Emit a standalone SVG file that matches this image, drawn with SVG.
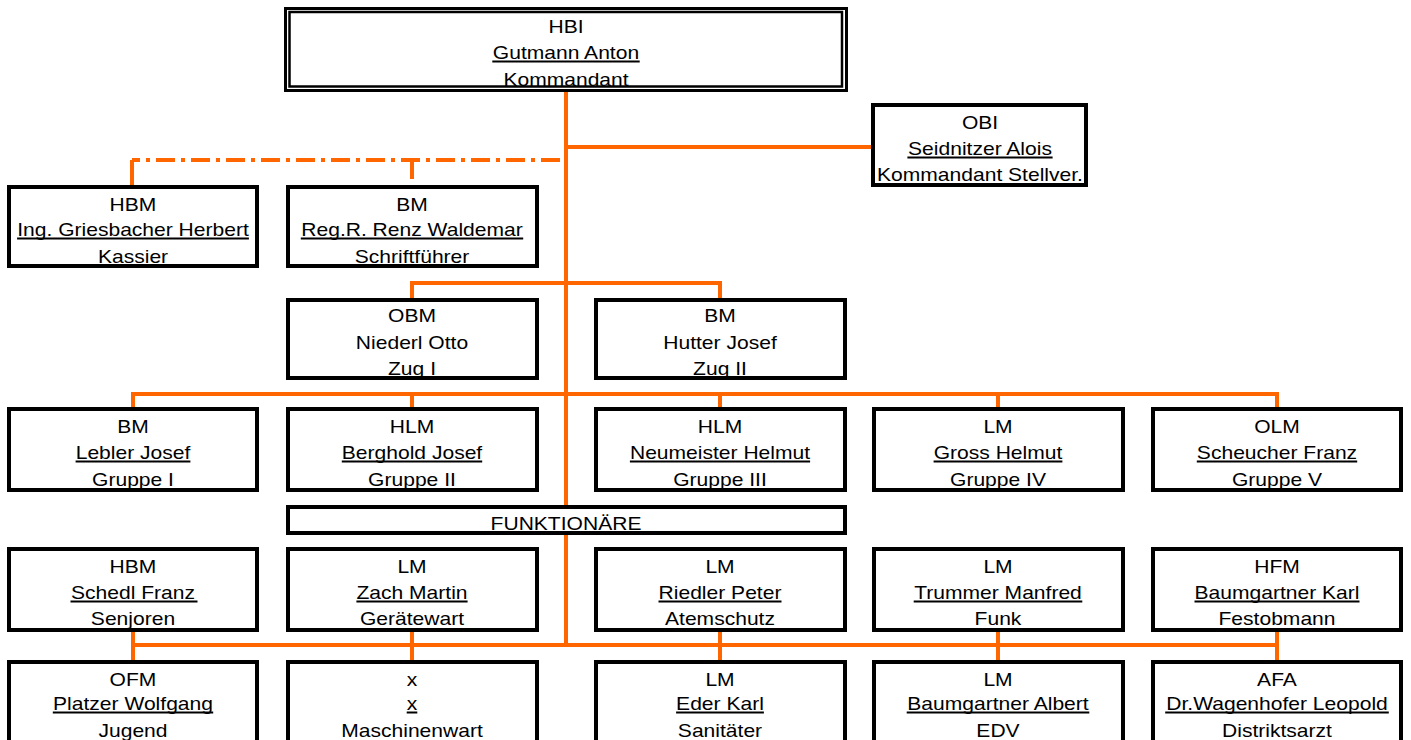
<svg xmlns="http://www.w3.org/2000/svg" width="1411" height="740" viewBox="0 0 1411 740">
<style>
.bg{fill:#fff}
.box{fill:#fff;stroke:#000;stroke-width:4}
.t{font-family:"Liberation Sans",Arial,Helvetica,sans-serif;font-size:18px;fill:#000;text-anchor:middle}
.ul{stroke:#000;stroke-width:2}
.c{stroke:#FF6600;stroke-width:4;fill:none}
.d{stroke:#FF6600;stroke-width:4;fill:none;stroke-dasharray:19 6 4 6}
</style>
<rect class="bg" x="0" y="0" width="1411" height="740"/>
<g id="connectors">
  <path class="c" d="M566,90 V645"/>
  <path class="c" d="M566,147 H873"/>
  <path class="d" d="M560,160 H132"/>
  <path class="c" d="M132,160 V185"/>
  <path class="c" d="M412,160 V179"/>
  <path class="c" d="M412,298 V283 H720 V298"/>
  <path class="c" d="M133,407 V394 H1277 V407 M412,394 V407 M720,394 V407 M998,394 V407"/>
  <path class="c" d="M133,632 V660 M412,632 V660 M720,632 V660 M998,632 V660 M1277,632 V660 M133,645 H1277"/>
</g>
<g id="n-hbi">
  <rect x="285.5" y="8.5" width="561" height="82" fill="#fff" stroke="#000" stroke-width="3"/>
  <rect x="289.5" y="12" width="552.5" height="74.5" fill="none" stroke="#000" stroke-width="2.5"/>
  <g transform="translate(566,0) scale(1.17,1)">
    <text class="t" x="0" y="33">HBI</text>
    <text class="t" x="0" y="59">Gutmann Anton</text>
    <text class="t" x="0" y="86">Kommandant</text>
  </g>
  <line class="ul" x1="492.3" y1="61.5" x2="639.7" y2="61.5"/>
</g>
<g id="n-obi">
  <rect class="box" x="873" y="105" width="213" height="80"/>
  <g transform="translate(980,0) scale(1.17,1)">
    <text class="t" x="0" y="129">OBI</text>
    <text class="t" x="0" y="155">Seidnitzer Alois</text>
    <text class="t" x="0" y="181">Kommandant Stellver.</text>
  </g>
  <line class="ul" x1="907.4" y1="157.5" x2="1052.6" y2="157.5"/>
</g>
<g id="n-kassier">
  <rect class="box" x="9" y="187" width="248" height="79"/>
  <g transform="translate(133,0) scale(1.17,1)">
    <text class="t" x="0" y="211">HBM</text>
    <text class="t" x="0" y="236">Ing. Griesbacher Herbert</text>
    <text class="t" x="0" y="263">Kassier</text>
  </g>
  <line class="ul" x1="17.1" y1="238.5" x2="248.9" y2="238.5"/>
</g>
<g id="n-schrift">
  <rect class="box" x="288" y="187" width="249" height="79"/>
  <g transform="translate(412,0) scale(1.17,1)">
    <text class="t" x="0" y="211">BM</text>
    <text class="t" x="0" y="236">Reg.R. Renz Waldemar</text>
    <text class="t" x="0" y="263">Schriftführer</text>
  </g>
  <line class="ul" x1="300.8" y1="238.5" x2="523.2" y2="238.5"/>
</g>
<g id="n-zug1">
  <rect class="box" x="288" y="300" width="249" height="78"/>
  <g transform="translate(412,0) scale(1.17,1)">
    <text class="t" x="0" y="322">OBM</text>
    <text class="t" x="0" y="349">Niederl Otto</text>
    <text class="t" x="0" y="375">Zug I</text>
  </g>
</g>
<g id="n-zug2">
  <rect class="box" x="596" y="300" width="249" height="78"/>
  <g transform="translate(720,0) scale(1.17,1)">
    <text class="t" x="0" y="322">BM</text>
    <text class="t" x="0" y="349">Hutter Josef</text>
    <text class="t" x="0" y="375">Zug II</text>
  </g>
</g>
<g id="n-g1">
  <rect class="box" x="9" y="409" width="248" height="81"/>
  <g transform="translate(133,0) scale(1.17,1)">
    <text class="t" x="0" y="433">BM</text>
    <text class="t" x="0" y="459">Lebler Josef</text>
    <text class="t" x="0" y="486">Gruppe I</text>
  </g>
  <line class="ul" x1="75.6" y1="461.5" x2="190.4" y2="461.5"/>
</g>
<g id="n-g2">
  <rect class="box" x="288" y="409" width="249" height="81"/>
  <g transform="translate(412,0) scale(1.17,1)">
    <text class="t" x="0" y="433">HLM</text>
    <text class="t" x="0" y="459">Berghold Josef</text>
    <text class="t" x="0" y="486">Gruppe II</text>
  </g>
  <line class="ul" x1="341.8" y1="461.5" x2="482.2" y2="461.5"/>
</g>
<g id="n-g3">
  <rect class="box" x="596" y="409" width="249" height="81"/>
  <g transform="translate(720,0) scale(1.17,1)">
    <text class="t" x="0" y="433">HLM</text>
    <text class="t" x="0" y="459">Neumeister Helmut</text>
    <text class="t" x="0" y="486">Gruppe III</text>
  </g>
  <line class="ul" x1="629.9" y1="461.5" x2="810.1" y2="461.5"/>
</g>
<g id="n-g4">
  <rect class="box" x="874" y="409" width="249" height="81"/>
  <g transform="translate(998,0) scale(1.17,1)">
    <text class="t" x="0" y="433">LM</text>
    <text class="t" x="0" y="459">Gross Helmut</text>
    <text class="t" x="0" y="486">Gruppe IV</text>
  </g>
  <line class="ul" x1="933.6" y1="461.5" x2="1062.4" y2="461.5"/>
</g>
<g id="n-g5">
  <rect class="box" x="1153" y="409" width="248" height="81"/>
  <g transform="translate(1277,0) scale(1.17,1)">
    <text class="t" x="0" y="433">OLM</text>
    <text class="t" x="0" y="459">Scheucher Franz</text>
    <text class="t" x="0" y="486">Gruppe V</text>
  </g>
  <line class="ul" x1="1196.8" y1="461.5" x2="1357.2" y2="461.5"/>
</g>
<g id="n-funktionaere">
  <rect class="box" x="288" y="507" width="557" height="26"/>
  <g transform="translate(566,0) scale(1.17,1)">
    <text class="t" x="0" y="530">FUNKTIONÄRE</text>
  </g>
</g>
<g id="n-senioren">
  <rect class="box" x="9" y="549" width="248" height="81"/>
  <g transform="translate(133,0) scale(1.17,1)">
    <text class="t" x="0" y="573">HBM</text>
    <text class="t" x="0" y="599">Schedl Franz</text>
    <text class="t" x="0" y="625">Senjoren</text>
  </g>
  <line class="ul" x1="70.5" y1="601.5" x2="197.5" y2="601.5"/>
</g>
<g id="n-geraete">
  <rect class="box" x="288" y="549" width="249" height="81"/>
  <g transform="translate(412,0) scale(1.17,1)">
    <text class="t" x="0" y="573">LM</text>
    <text class="t" x="0" y="599">Zach Martin</text>
    <text class="t" x="0" y="625">Gerätewart</text>
  </g>
  <line class="ul" x1="356.4" y1="601.5" x2="467.6" y2="601.5"/>
</g>
<g id="n-atemschutz">
  <rect class="box" x="596" y="549" width="249" height="81"/>
  <g transform="translate(720,0) scale(1.17,1)">
    <text class="t" x="0" y="573">LM</text>
    <text class="t" x="0" y="599">Riedler Peter</text>
    <text class="t" x="0" y="625">Atemschutz</text>
  </g>
  <line class="ul" x1="658.5" y1="601.5" x2="781.5" y2="601.5"/>
</g>
<g id="n-funk">
  <rect class="box" x="874" y="549" width="249" height="81"/>
  <g transform="translate(998,0) scale(1.17,1)">
    <text class="t" x="0" y="573">LM</text>
    <text class="t" x="0" y="599">Trummer Manfred</text>
    <text class="t" x="0" y="625">Funk</text>
  </g>
  <line class="ul" x1="913.7" y1="601.5" x2="1082.3" y2="601.5"/>
</g>
<g id="n-fest">
  <rect class="box" x="1153" y="549" width="248" height="81"/>
  <g transform="translate(1277,0) scale(1.17,1)">
    <text class="t" x="0" y="573">HFM</text>
    <text class="t" x="0" y="599">Baumgartner Karl</text>
    <text class="t" x="0" y="625">Festobmann</text>
  </g>
  <line class="ul" x1="1194.5" y1="601.5" x2="1359.5" y2="601.5"/>
</g>
<g id="n-jugend">
  <rect class="box" x="9" y="662" width="248" height="81"/>
  <g transform="translate(133,0) scale(1.17,1)">
    <text class="t" x="0" y="686">OFM</text>
    <text class="t" x="0" y="710">Platzer Wolfgang</text>
    <text class="t" x="0" y="737">Jugend</text>
  </g>
  <line class="ul" x1="52.8" y1="712.5" x2="213.2" y2="712.5"/>
</g>
<g id="n-maschinen">
  <rect class="box" x="288" y="662" width="249" height="81"/>
  <g transform="translate(412,0) scale(1.17,1)">
    <text class="t" x="0" y="686">x</text>
    <text class="t" x="0" y="710">x</text>
    <text class="t" x="0" y="737">Maschinenwart</text>
  </g>
  <line class="ul" x1="406.7" y1="712.5" x2="417.3" y2="712.5"/>
</g>
<g id="n-sanitaeter">
  <rect class="box" x="596" y="662" width="249" height="81"/>
  <g transform="translate(720,0) scale(1.17,1)">
    <text class="t" x="0" y="686">LM</text>
    <text class="t" x="0" y="710">Eder Karl</text>
    <text class="t" x="0" y="737">Sanitäter</text>
  </g>
  <line class="ul" x1="676.1" y1="712.5" x2="763.9" y2="712.5"/>
</g>
<g id="n-edv">
  <rect class="box" x="874" y="662" width="249" height="81"/>
  <g transform="translate(998,0) scale(1.17,1)">
    <text class="t" x="0" y="686">LM</text>
    <text class="t" x="0" y="710">Baumgartner Albert</text>
    <text class="t" x="0" y="737">EDV</text>
  </g>
  <line class="ul" x1="906.7" y1="712.5" x2="1089.3" y2="712.5"/>
</g>
<g id="n-arzt">
  <rect class="box" x="1153" y="662" width="248" height="81"/>
  <g transform="translate(1277,0) scale(1.17,1)">
    <text class="t" x="0" y="686">AFA</text>
    <text class="t" x="0" y="710">Dr.Wagenhofer Leopold</text>
    <text class="t" x="0" y="737">Distriktsarzt</text>
  </g>
  <line class="ul" x1="1165.2" y1="712.5" x2="1388.8" y2="712.5"/>
</g>
</svg>
